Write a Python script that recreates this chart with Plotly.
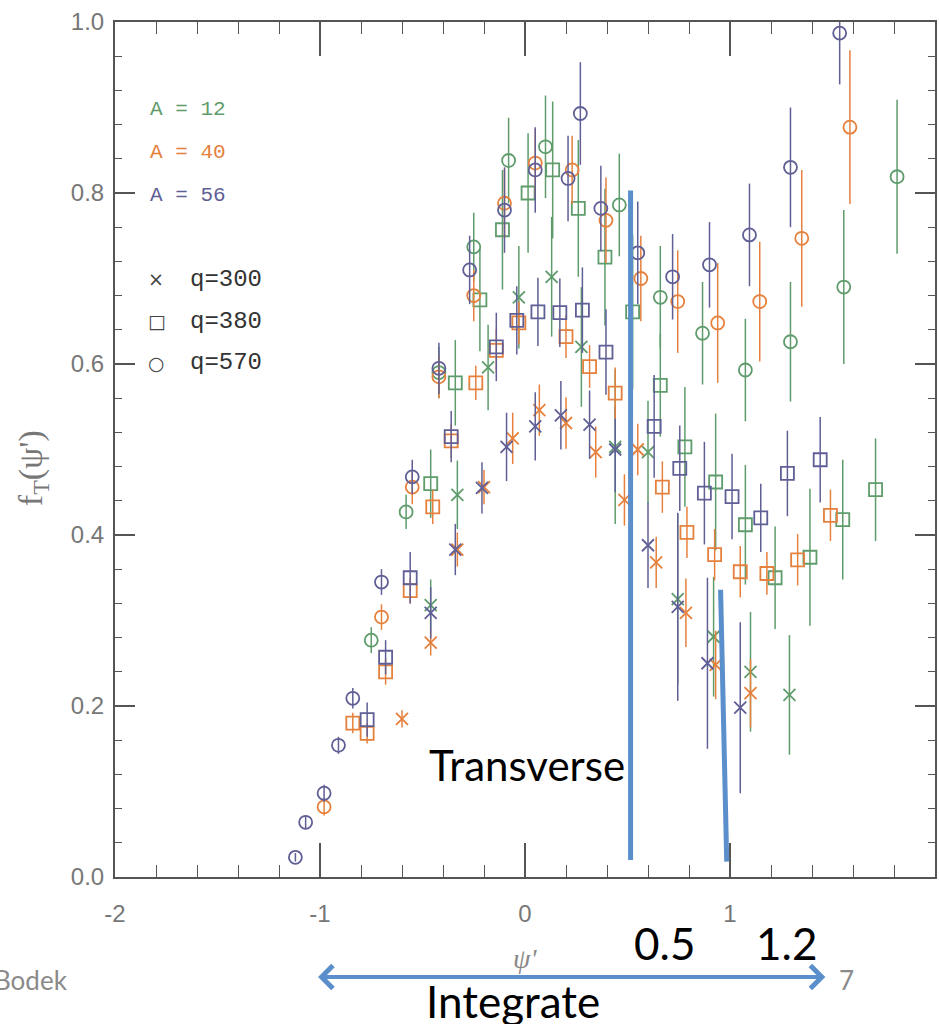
import plotly.graph_objects as go

# ---- data: f_T(psi') for three nuclei (A) and three momentum transfers (q) ----
# q = 300 (crosses)
a12_q300_x = [-0.46, -0.33, -0.18, -0.03, 0.13, 0.275, 0.44, 0.60, 0.745, 0.92, 1.10, 1.29]
a12_q300_y = [0.318, 0.447, 0.596, 0.678, 0.702, 0.620, 0.503, 0.497, 0.325, 0.281, 0.240, 0.213]
a12_q300_e = [0.03, 0.04, 0.05, 0.06, 0.07, 0.07, 0.09, 0.06, 0.10, 0.07, 0.07, 0.07]

a40_q300_x = [-0.60, -0.46, -0.33, -0.20, -0.06, 0.07, 0.20, 0.345, 0.485, 0.55, 0.64, 0.785, 0.93, 1.10]
a40_q300_y = [0.185, 0.274, 0.383, 0.456, 0.513, 0.546, 0.531, 0.497, 0.441, 0.500, 0.368, 0.309, 0.248, 0.215]
a40_q300_e = [0.01, 0.015, 0.02, 0.02, 0.03, 0.03, 0.03, 0.03, 0.03, 0.03, 0.03, 0.04, 0.04, 0.04]

a56_q300_x = [-0.46, -0.34, -0.21, -0.09, 0.05, 0.175, 0.315, 0.44, 0.60, 0.745, 0.89, 1.05]
a56_q300_y = [0.309, 0.383, 0.455, 0.503, 0.527, 0.540, 0.529, 0.500, 0.388, 0.316, 0.250, 0.198]
a56_q300_e = [0.03, 0.03, 0.03, 0.04, 0.04, 0.04, 0.04, 0.05, 0.05, 0.11, 0.10, 0.10]

# q = 380 (squares)
a12_q380_x = [-0.46, -0.34, -0.22, -0.11, 0.015, 0.135, 0.26, 0.39, 0.525, 0.66, 0.78, 0.93, 1.075, 1.22, 1.39, 1.55, 1.71]
a12_q380_y = [0.460, 0.578, 0.675, 0.757, 0.800, 0.827, 0.782, 0.725, 0.661, 0.575, 0.503, 0.462, 0.412, 0.350, 0.374, 0.418, 0.453]
a12_q380_e = [0.04, 0.05, 0.06, 0.07, 0.07, 0.08, 0.08, 0.08, 0.09, 0.06, 0.07, 0.08, 0.07, 0.06, 0.08, 0.07, 0.06]

a40_q380_x = [-0.84, -0.77, -0.68, -0.56, -0.45, -0.36, -0.24, -0.14, -0.03, 0.20, 0.315, 0.44, 0.67, 0.79, 0.925, 1.05, 1.18, 1.33, 1.49]
a40_q380_y = [0.180, 0.168, 0.240, 0.335, 0.433, 0.510, 0.578, 0.616, 0.648, 0.632, 0.597, 0.566, 0.456, 0.403, 0.377, 0.357, 0.355, 0.371, 0.423]
a40_q380_e = [0.012, 0.012, 0.015, 0.015, 0.02, 0.02, 0.02, 0.025, 0.025, 0.025, 0.025, 0.03, 0.03, 0.03, 0.03, 0.03, 0.025, 0.03, 0.03]

a56_q380_x = [-0.77, -0.68, -0.56, -0.36, -0.14, -0.04, 0.063, 0.17, 0.28, 0.395, 0.63, 0.755, 0.875, 1.01, 1.15, 1.28, 1.44]
a56_q380_y = [0.184, 0.257, 0.350, 0.515, 0.620, 0.651, 0.661, 0.660, 0.663, 0.614, 0.527, 0.478, 0.449, 0.445, 0.420, 0.472, 0.488]
a56_q380_e = [0.02, 0.02, 0.03, 0.03, 0.04, 0.04, 0.04, 0.04, 0.05, 0.05, 0.06, 0.05, 0.06, 0.05, 0.04, 0.05, 0.05]

# q = 570 (circles)
a12_q570_x = [-0.75, -0.58, -0.42, -0.25, -0.08, 0.10, 0.46, 0.66, 0.866, 1.075, 1.295, 1.555, 1.815]
a12_q570_y = [0.277, 0.427, 0.590, 0.737, 0.838, 0.854, 0.786, 0.678, 0.636, 0.593, 0.626, 0.690, 0.819]
a12_q570_e = [0.015, 0.02, 0.03, 0.04, 0.05, 0.06, 0.06, 0.06, 0.06, 0.06, 0.07, 0.09, 0.09]

a40_q570_x = [-0.98, -0.70, -0.55, -0.42, -0.25, -0.10, 0.05, 0.23, 0.395, 0.565, 0.745, 0.94, 1.145, 1.35, 1.585]
a40_q570_y = [0.082, 0.304, 0.456, 0.585, 0.680, 0.788, 0.835, 0.827, 0.768, 0.700, 0.673, 0.648, 0.673, 0.747, 0.877]
a40_q570_e = [0.01, 0.015, 0.02, 0.025, 0.03, 0.04, 0.04, 0.04, 0.05, 0.05, 0.06, 0.07, 0.07, 0.08, 0.09]

a56_q570_x = [-1.12, -1.07, -0.98, -0.91, -0.84, -0.70, -0.55, -0.42, -0.27, -0.10, 0.05, 0.21, 0.27, 0.37, 0.55, 0.72, 0.90, 1.095, 1.295, 1.535]
a56_q570_y = [0.023, 0.064, 0.098, 0.154, 0.209, 0.345, 0.468, 0.595, 0.710, 0.780, 0.827, 0.817, 0.893, 0.782, 0.730, 0.702, 0.716, 0.751, 0.830, 0.987]
a56_q570_e = [0.005, 0.008, 0.01, 0.01, 0.012, 0.015, 0.02, 0.03, 0.04, 0.05, 0.05, 0.05, 0.06, 0.05, 0.06, 0.05, 0.05, 0.06, 0.07, 0.06]

nuclei = ["12", "40", "56"]
nucleus_colors = {"12": "#5f9c6c", "40": "#e5813d", "56": "#5f5f96"}
q_values = ["300", "380", "570"]
q_symbols = {"300": "x-thin-open", "380": "square-open", "570": "circle-open"}

# overlay marks on the psi' axis
cut_lines_x = [0.515, 0.954]
integrate_range = [-1.017, 1.465]
cut_labels = ["0.5", "1.2"]

series = {
    ("12", "300"): (a12_q300_x, a12_q300_y, a12_q300_e),
    ("40", "300"): (a40_q300_x, a40_q300_y, a40_q300_e),
    ("56", "300"): (a56_q300_x, a56_q300_y, a56_q300_e),
    ("12", "380"): (a12_q380_x, a12_q380_y, a12_q380_e),
    ("40", "380"): (a40_q380_x, a40_q380_y, a40_q380_e),
    ("56", "380"): (a56_q380_x, a56_q380_y, a56_q380_e),
    ("12", "570"): (a12_q570_x, a12_q570_y, a12_q570_e),
    ("40", "570"): (a40_q570_x, a40_q570_y, a40_q570_e),
    ("56", "570"): (a56_q570_x, a56_q570_y, a56_q570_e),
}

fig = go.Figure()
for q in q_values:
    for a in nuclei:
        xs, ys, es = series[(a, q)]
        col = nucleus_colors[a]
        fig.add_trace(go.Scatter(
            x=xs, y=ys, mode="markers",
            name=f"A={a}, q={q}",
            showlegend=False,
            marker=dict(symbol=q_symbols[q], size=13 if q != "300" else 12,
                        color=col, line=dict(color=col, width=1.8)),
            error_y=dict(type="data", array=es, visible=True,
                         color=col, thickness=1.5, width=0),
            cliponaxis=False,
        ))

AX = "#555555"
TICKFONT = dict(family="Liberation Sans Narrow, Liberation Sans, sans-serif", size=24, color="#777777")

fig.update_layout(
    width=939, height=1024,
    margin=dict(l=115, r=2, t=22, b=147),
    paper_bgcolor="white", plot_bgcolor="white",
    xaxis=dict(
        range=[-2, 2], tickvals=[-2, -1, 0, 1, 2], ticktext=["-2", "-1", "0", "1", "2"],
        ticks="inside", ticklen=34, tickwidth=1.6, tickcolor=AX,
        minor=dict(dtick=0.2, ticks="inside", ticklen=12, tickwidth=1.4, tickcolor=AX),
        showline=True, linecolor=AX, linewidth=2, mirror="ticks",
        showgrid=False, zeroline=False, tickfont=TICKFONT, ticklabelstandoff=14,
    ),
    yaxis=dict(
        range=[0, 1], tickvals=[0, 0.2, 0.4, 0.6, 0.8, 1.0], tickformat=".1f",
        ticks="inside", ticklen=20, tickwidth=2.4, tickcolor=AX,
        minor=dict(dtick=0.04, ticks="inside", ticklen=7, tickwidth=1.4, tickcolor=AX),
        showline=True, linecolor=AX, linewidth=2, mirror="ticks",
        showgrid=False, zeroline=False, tickfont=TICKFONT, ticklabelstandoff=4,
    ),
)

annotations = []

# legend block inside the frame
legend_font = "Liberation Mono, DejaVu Sans Mono, monospace"
for i, a in enumerate(nuclei):
    annotations.append(dict(
        xref="paper", yref="paper", x=(148 - 115) / 822, y=(877 - (110 + 43 * i)) / 855,
        text=f"A = {a}", showarrow=False, xanchor="left", yanchor="middle",
        font=dict(family=legend_font, size=21, color=nucleus_colors[a]),
    ))
legend_marks = {"300": "×", "380": "□", "570": "○"}
for i, q in enumerate(q_values):
    yy = (877 - (279 + 42 * i)) / 855
    annotations.append(dict(
        xref="paper", yref="paper", x=(146 - 115) / 822, y=yy,
        text=legend_marks[q], showarrow=False, xanchor="left", yanchor="middle",
        font=dict(family="DejaVu Sans", size=19, color="#444444"),
    ))
    annotations.append(dict(
        xref="paper", yref="paper", x=(188 - 115) / 822, y=yy,
        text=f"q={q}", showarrow=False, xanchor="left", yanchor="middle",
        font=dict(family=legend_font, size=24, color="#333333"),
    ))

# axis titles
annotations.append(dict(
    xref="paper", yref="paper", x=(33 - 115) / 822, y=(877 - 468) / 855,
    text="f<sub>T</sub>(ψ')", textangle=-90, showarrow=False,
    xanchor="center", yanchor="middle",
    font=dict(family="Liberation Serif, serif", size=34, color="#777777"),
))
annotations.append(dict(
    xref="x", yref="paper", x=0, y=(877 - 958) / 855,
    text="<i>ψ'</i>", showarrow=False, xanchor="center", yanchor="middle",
    font=dict(family="Liberation Serif, serif", size=28, color="#888888"),
))

# slide overlay: labels and integration arrow
BLUE = "#5b8fcb"
SLIDE = "Lato, Open Sans, sans-serif"
annotations.append(dict(
    xref="x", yref="paper", x=cut_lines_x[0], y=(877 - 765) / 855,
    text="Transverse", showarrow=False, xanchor="right", yanchor="middle", xshift=-4,
    font=dict(family=SLIDE, size=42, color="black"),
))
for lbl, px in zip(cut_labels, [667, 789]):
    annotations.append(dict(
        xref="x", yref="paper", x=(px - 527) / 205.5, y=(877 - 943) / 855,
        text=lbl, showarrow=False, xanchor="center", yanchor="middle",
        font=dict(family=SLIDE, size=44, color="black"),
    ))
annotations.append(dict(
    xref="x", yref="paper", x=integrate_range[1], y=(877 - 977) / 855,
    axref="x", ayref="pixel", ax=integrate_range[0], ay=0,
    text="", showarrow=True, arrowside="end+start", arrowhead=4,
    arrowsize=1.1, arrowwidth=4, arrowcolor=BLUE,
))
annotations.append(dict(
    xref="x", yref="paper", x=(515 - 527) / 205.5, y=(877 - 1001) / 855,
    text="Integrate", showarrow=False, xanchor="center", yanchor="middle",
    font=dict(family=SLIDE, size=44, color="black"),
))
annotations.append(dict(
    xref="paper", yref="paper", x=(70 - 115) / 822, y=(877 - 980) / 855,
    text="Bodek", showarrow=False, xanchor="right", yanchor="middle",
    font=dict(family=SLIDE, size=26, color="#8a8a8a"),
))
annotations.append(dict(
    xref="x", yref="paper", x=(849 - 527) / 205.5, y=(877 - 980) / 855,
    text="7", showarrow=False, xanchor="center", yanchor="middle",
    font=dict(family=SLIDE, size=26, color="#8a8a8a"),
))

fig.update_layout(annotations=annotations)

# vertical cut lines
fig.add_shape(type="line", xref="x", yref="y",
              x0=cut_lines_x[0], x1=cut_lines_x[0], y0=0.02, y1=0.803,
              line=dict(color=BLUE, width=5))
fig.add_shape(type="line", xref="x", yref="y",
              x0=cut_lines_x[1], x1=cut_lines_x[1] + 0.03, y0=0.336, y1=0.018,
              line=dict(color=BLUE, width=5))

fig.write_html("out.html")
